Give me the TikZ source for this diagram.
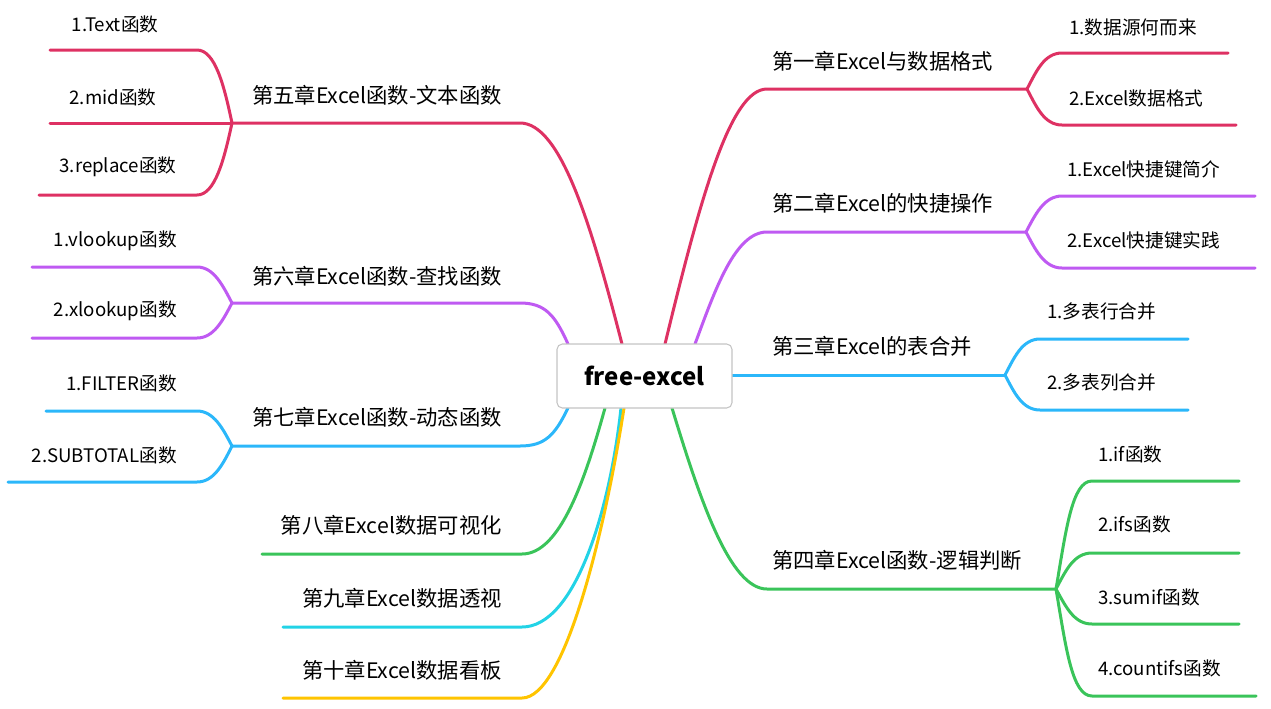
\documentclass[tikz,border=0pt]{standalone}
\usepackage{fontspec}
\setmainfont{Noto Sans CJK SC}
\definecolor{cred}{HTML}{DE3163}
\definecolor{cpur}{HTML}{BF5AF2}
\definecolor{cblu}{HTML}{2BB7FA}
\definecolor{cgrn}{HTML}{3AC45A}
\definecolor{ccyn}{HTML}{22D3E6}
\definecolor{cyel}{HTML}{FFC400}
\definecolor{boxgray}{HTML}{C4C4C4}
\tikzset{
  branch/.style={line width=2.25pt, line cap=round},
  maintext/.style={font=\fontsize{16}{19}\selectfont, inner sep=0pt},
  subtext/.style={font=\fontsize{14}{17}\selectfont, inner sep=0pt},
  rootbox/.style={draw=boxgray, line width=0.8pt, rounded corners=4pt, fill=white,
    minimum width=131.25pt, minimum height=48pt, inner sep=0pt,
    font=\fontsize{18}{22}\selectfont\bfseries}
}
\begin{document}
\begin{tikzpicture}[x=0.75pt,y=-0.75pt]
\useasboundingbox (0,0) rectangle (1271,708);

% ---------- coordinates ----------
% right side
\coordinate (r1s) at (665,344); \coordinate (r1c) at (767,89);  \coordinate (r1j) at (1027,89);
\coordinate (r1a) at (1062,53); \coordinate (r1ae) at (1228,53);
\coordinate (r1b) at (1062,125); \coordinate (r1be) at (1236,125);

\coordinate (r2s) at (695,344); \coordinate (r2c) at (767,232); \coordinate (r2j) at (1026,232);
\coordinate (r2a) at (1062,196); \coordinate (r2ae) at (1255,196);
\coordinate (r2b) at (1062,268); \coordinate (r2be) at (1255,268);

\coordinate (r3s) at (732,375); \coordinate (r3j) at (1005,375);
\coordinate (r3a) at (1040,339); \coordinate (r3ae) at (1188,339);
\coordinate (r3b) at (1040,410); \coordinate (r3be) at (1188,410);

\coordinate (r4s) at (672,408); \coordinate (r4c) at (767,589); \coordinate (r4j) at (1056,589);
\coordinate (r4a) at (1092,481); \coordinate (r4ae) at (1239,481);
\coordinate (r4b) at (1092,553); \coordinate (r4be) at (1239,553);
\coordinate (r4d) at (1092,624); \coordinate (r4de) at (1239,624);
\coordinate (r4e) at (1092,696); \coordinate (r4ee) at (1256,696);

% left side
\coordinate (l5s) at (622,344); \coordinate (l5c) at (520,123); \coordinate (l5j) at (232,123);
\coordinate (l5a) at (197,50);  \coordinate (l5ae) at (50,50);
\coordinate (l5be) at (50,123);
\coordinate (l5d) at (197,195); \coordinate (l5de) at (39,195);

\coordinate (l6s) at (568,344); \coordinate (l6c) at (520,303); \coordinate (l6j) at (232,303);
\coordinate (l6a) at (197,267); \coordinate (l6ae) at (32,267);
\coordinate (l6b) at (197,338); \coordinate (l6be) at (32,338);

\coordinate (l7s) at (568,408); \coordinate (l7c) at (520,446); \coordinate (l7j) at (232,446);
\coordinate (l7a) at (197,411); \coordinate (l7ae) at (46,411);
\coordinate (l7b) at (197,482); \coordinate (l7be) at (8,482);

\coordinate (l8s) at (605,408); \coordinate (l8c) at (522,554); \coordinate (l8e) at (262,554);
\coordinate (l9s) at (621,408); \coordinate (l9c) at (522,627); \coordinate (l9e) at (283,627);
\coordinate (l10s) at (624,408); \coordinate (l10c) at (522,698); \coordinate (l10e) at (283,698);

% ---------- connectors ----------
\draw[branch,cred] (r1s) .. controls (700,200) and (730,89) .. (r1c) -- (r1j);
\draw[branch,cred] (r1j) .. controls (1036,72) and (1044,53) .. (r1a) -- (r1ae);
\draw[branch,cred] (r1j) .. controls (1036,106) and (1044,125) .. (r1b) -- (r1be);

\draw[branch,cpur] (r2s) .. controls (715,290) and (735,232) .. (r2c) -- (r2j);
\draw[branch,cpur] (r2j) .. controls (1035,215) and (1044,196) .. (r2a) -- (r2ae);
\draw[branch,cpur] (r2j) .. controls (1035,249) and (1044,268) .. (r2b) -- (r2be);

\draw[branch,cblu] (r3s) -- (r3j);
\draw[branch,cblu] (r3j) .. controls (1014,358) and (1022,339) .. (r3a) -- (r3ae);
\draw[branch,cblu] (r3j) .. controls (1014,392) and (1022,410) .. (r3b) -- (r3be);

\draw[branch,cgrn] (r4s) .. controls (700,500) and (730,589) .. (r4c) -- (r4j);
\draw[branch,cgrn] (r4j) .. controls (1066,530) and (1072,481) .. (r4a) -- (r4ae);
\draw[branch,cgrn] (r4j) .. controls (1066,570) and (1074,553) .. (r4b) -- (r4be);
\draw[branch,cgrn] (r4j) .. controls (1066,607) and (1074,624) .. (r4d) -- (r4de);
\draw[branch,cgrn] (r4j) .. controls (1066,648) and (1072,696) .. (r4e) -- (r4ee);

\draw[branch,cred] (l5s) .. controls (590,220) and (560,123) .. (l5c) -- (l5j);
\draw[branch,cred] (l5j) .. controls (224,85) and (215,50) .. (l5a) -- (l5ae);
\draw[branch,cred] (l5j) -- (l5be);
\draw[branch,cred] (l5j) .. controls (224,160) and (215,195) .. (l5d) -- (l5de);

\draw[branch,cpur] (l6s) .. controls (555,315) and (545,303) .. (l6c) -- (l6j);
\draw[branch,cpur] (l6j) .. controls (223,286) and (214,267) .. (l6a) -- (l6ae);
\draw[branch,cpur] (l6j) .. controls (223,320) and (214,338) .. (l6b) -- (l6be);

\draw[branch,cblu] (l7s) .. controls (555,435) and (545,446) .. (l7c) -- (l7j);
\draw[branch,cblu] (l7j) .. controls (223,429) and (214,411) .. (l7a) -- (l7ae);
\draw[branch,cblu] (l7j) .. controls (223,464) and (214,482) .. (l7b) -- (l7be);

\draw[branch,cgrn] (l8s) .. controls (585,480) and (560,554) .. (l8c) -- (l8e);
\draw[branch,ccyn] (l9s) .. controls (610,510) and (575,627) .. (l9c) -- (l9e);
\draw[branch,cyel] (l10s) .. controls (605,530) and (565,698) .. (l10c) -- (l10e);

% ---------- root ----------
\node[rootbox] (root) at (644.5,376) {free-excel};

% ---------- chapter texts ----------
\node[maintext,anchor=west] (t1) at (772,61)  {第一章Excel与数据格式};
\node[maintext,anchor=west] (t2) at (772,203) {第二章Excel的快捷操作};
\node[maintext,anchor=west] (t3) at (772,346) {第三章Excel的表合并};
\node[maintext,anchor=west] (t4) at (772,560) {第四章Excel函数-逻辑判断};
\node[maintext,anchor=east] (t5) at (502,95)  {第五章Excel函数-文本函数};
\node[maintext,anchor=east] (t6) at (502,276) {第六章Excel函数-查找函数};
\node[maintext,anchor=east] (t7) at (502,417) {第七章Excel函数-动态函数};
\node[maintext,anchor=east] (t8) at (502,525) {第八章Excel数据可视化};
\node[maintext,anchor=east] (t9) at (502,598) {第九章Excel数据透视};
\node[maintext,anchor=east] (t10) at (502,670) {第十章Excel数据看板};

% ---------- sub texts ----------
\node[subtext,anchor=west] (s1a) at (1069,27)  {1.数据源何而来};
\node[subtext,anchor=west] (s1b) at (1069,98)  {2.Excel数据格式};
\node[subtext,anchor=west] (s2a) at (1067,169) {1.Excel快捷键简介};
\node[subtext,anchor=west] (s2b) at (1067,240) {2.Excel快捷键实践};
\node[subtext,anchor=west] (s3a) at (1047,311) {1.多表行合并};
\node[subtext,anchor=west] (s3b) at (1047,382) {2.多表列合并};
\node[subtext,anchor=west] (s4a) at (1098,454) {1.if函数};
\node[subtext,anchor=west] (s4b) at (1098,524) {2.ifs函数};
\node[subtext,anchor=west] (s4d) at (1098,597) {3.sumif函数};
\node[subtext,anchor=west] (s4e) at (1098,668) {4.countifs函数};

\node[subtext] (s5a) at (115,24)  {1.Text函数};
\node[subtext] (s5b) at (113,97)  {2.mid函数};
\node[subtext] (s5d) at (118,167) {3.replace函数};
\node[subtext,anchor=east] (s6a) at (177,241) {1.vlookup函数};
\node[subtext,anchor=east] (s6b) at (177,311) {2.xlookup函数};
\node[subtext,anchor=east] (s7a) at (177,383) {1.FILTER函数};
\node[subtext,anchor=east] (s7b) at (177,455) {2.SUBTOTAL函数};
\end{tikzpicture}
\end{document}
